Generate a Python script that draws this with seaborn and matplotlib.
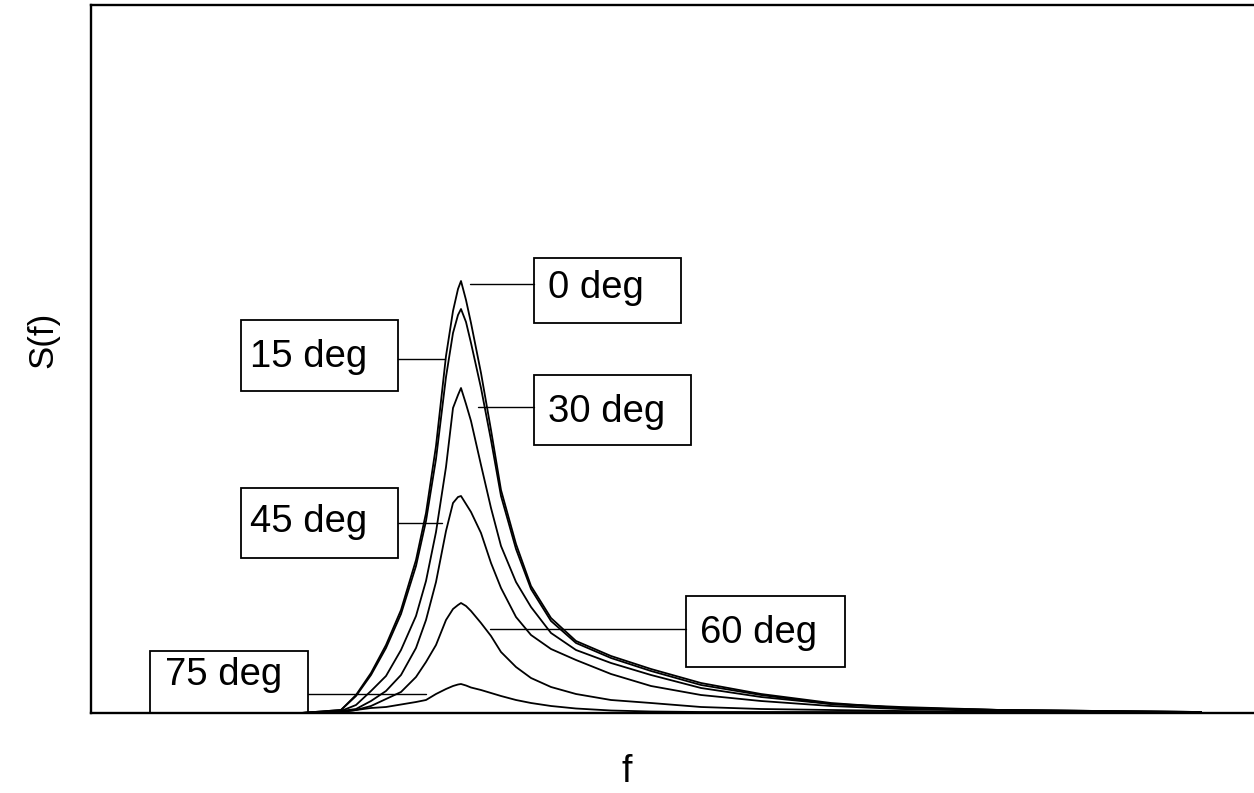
import numpy as np
import pandas as pd
import matplotlib
matplotlib.use("Agg")
import matplotlib.pyplot as plt
import seaborn as sns
from matplotlib.patches import Rectangle
from matplotlib.lines import Line2D

# ---------------- data ----------------
f = [0.6, 2.1, 2.5, 2.65, 2.8, 2.95, 3.1, 3.25, 3.35, 3.45, 3.55, 3.62, 3.67, 3.7, 3.75, 3.8,
     3.9, 4.0, 4.1, 4.25, 4.4, 4.6, 4.85, 5.2, 5.6, 6.1, 6.7, 7.4, 8.1, 9.1, 10.1, 11.1]

s_0 = [0.0, 0.00, 0.03, 0.18, 0.40, 0.68, 1.03, 1.53, 2.00, 2.67, 3.57, 4.02, 4.24, 4.32, 4.13, 3.90,
       3.40, 2.83, 2.23, 1.69, 1.27, 0.95, 0.72, 0.57, 0.44, 0.30, 0.19, 0.10, 0.05, 0.03, 0.02, 0.01]
s_15 = [0.0, 0.00, 0.03, 0.17, 0.38, 0.65, 0.99, 1.47, 1.92, 2.54, 3.36, 3.80, 3.98, 4.04, 3.91, 3.70,
        3.25, 2.73, 2.17, 1.64, 1.24, 0.92, 0.70, 0.55, 0.42, 0.28, 0.18, 0.09, 0.05, 0.03, 0.02, 0.01]
s_30 = [0.0, 0.00, 0.02, 0.08, 0.22, 0.37, 0.63, 0.97, 1.32, 1.81, 2.46, 3.05, 3.18, 3.25, 3.09, 2.92,
        2.48, 2.05, 1.67, 1.31, 1.06, 0.80, 0.63, 0.50, 0.38, 0.25, 0.16, 0.09, 0.06, 0.03, 0.02, 0.01]
s_45 = [0.0, 0.00, 0.02, 0.04, 0.12, 0.22, 0.38, 0.65, 0.93, 1.31, 1.82, 2.10, 2.16, 2.17, 2.09, 2.01,
        1.80, 1.50, 1.25, 0.96, 0.78, 0.64, 0.53, 0.39, 0.27, 0.18, 0.12, 0.07, 0.04, 0.02, 0.01, 0.01]
s_60 = [0.0, 0.00, 0.01, 0.03, 0.07, 0.14, 0.21, 0.36, 0.51, 0.68, 0.93, 1.04, 1.08, 1.10, 1.07, 1.02,
        0.90, 0.77, 0.61, 0.46, 0.35, 0.26, 0.19, 0.13, 0.10, 0.06, 0.04, 0.03, 0.02, 0.01, 0.01, 0.01]
s_75 = [0.0, 0.00, 0.01, 0.03, 0.05, 0.06, 0.085, 0.11, 0.13, 0.19, 0.24, 0.27, 0.285, 0.29, 0.275, 0.255,
        0.23, 0.20, 0.17, 0.13, 0.10, 0.07, 0.045, 0.025, 0.015, 0.01, 0.01, 0.01, 0.01, 0.01, 0.01, 0.01]

angles = ["0 deg", "15 deg", "30 deg", "45 deg", "60 deg", "75 deg"]
series = [s_0, s_15, s_30, s_45, s_60, s_75]

# label boxes in image pixels: (left, top, right, bottom), text (x, baseline), leader line (x0, x1, y)
boxes = [(534, 258, 681, 323), (241, 320, 398, 391), (534, 375, 691, 445),
         (241, 488, 398, 558), (686, 596, 845, 667), (150, 651, 308, 713)]
text_pos = [(548, 298), (250, 367), (548, 422), (250, 532), (700, 643), (165, 685)]
leaders = [(470, 534, 284), (398, 445, 359), (478, 534, 407),
           (398, 442, 523), (490, 686, 629), (308, 426, 694)]

W, H = 1254, 793

df = pd.concat([pd.DataFrame({"f": f, "S": s, "angle": a}) for a, s in zip(angles, series)],
               ignore_index=True)

sns.set_theme(style="white")
plt.rcParams["font.family"] = ["Liberation Sans", "DejaVu Sans"]
plt.rcParams["text.color"] = "black"

fig = plt.figure(figsize=(W / 100, H / 100), dpi=100)
ax = fig.add_axes([91 / W, 1 - 713 / H, 1163 / W, 708 / H])

sns.lineplot(data=df, x="f", y="S", hue="angle", palette=["black"] * 6,
             linewidth=1.3, legend=False, sort=False, ax=ax)

ax.set_xlim(0, 11.63)
ax.set_ylim(0, 7.08)
ax.set_xticks([])
ax.set_yticks([])
ax.set_xlabel("")
ax.set_ylabel("")
for side in ["left", "top", "bottom"]:
    ax.spines[side].set_color("black")
    ax.spines[side].set_linewidth(1.7)
ax.spines["right"].set_visible(False)


def px(x, y):
    return x / W, 1 - y / H


for (l, t, r, b), (tx, ty), (x0, x1, ly), lab in zip(boxes, text_pos, leaders, angles):
    x, y = px(l, b)
    fig.patches.append(Rectangle((x, y), (r - l) / W, (b - t) / H, transform=fig.transFigure,
                                 fill=False, edgecolor="black", linewidth=1.3))
    fig.text(*px(tx, ty), lab, fontsize=27.5, ha="left", va="baseline", color="black")
    fig.lines.append(Line2D([x0 / W, x1 / W], [1 - ly / H, 1 - ly / H],
                            transform=fig.transFigure, color="black", linewidth=1.0))

fig.text(*px(43, 340), "S(f)", fontsize=25, rotation=90, ha="center", va="center", color="black")
fig.text(*px(627, 772), "f", fontsize=27, ha="center", va="center", color="black")

fig.savefig("out.png", dpi=100, facecolor="white")
